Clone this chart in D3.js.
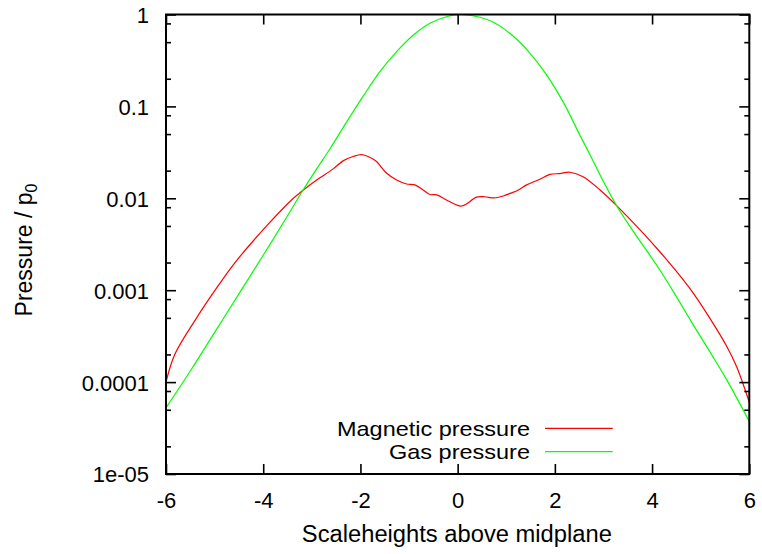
<!DOCTYPE html>
<html>
<head>
<meta charset="utf-8">
<script src="https://cdn.jsdelivr.net/npm/d3@7/dist/d3.min.js"></script>
<style>
  html, body { margin: 0; padding: 0; background: #fff; }
  svg { display: block; }
  text { font-family: "Liberation Sans", Arial, Helvetica, sans-serif; fill: #000; }
</style>
</head>
<body>
<svg id="chart" width="762" height="554"></svg>
<script>
// ---- Data ----
const magZ = [-6, -5.82, -5.37, -4.99, -4.58, -3.93, -3.38, -3.2, -2.9, -2.56, -2.35, -2.15, -1.98, -1.82, -1.67, -1.46, -1.255, -1.05, -0.88, -0.71, -0.57, -0.43, -0.23, -0.02, 0.08, 0.18, 0.39, 0.56, 0.74, 0.94, 1.08, 1.25, 1.42, 1.69, 1.90, 2.10, 2.31, 2.58, 2.93, 3.29, 3.82, 4.16, 4.51, 4.85, 5.19, 5.54, 5.74, 6.0];
const magP = [1.0e-4, 2.0e-4, 5.0e-4, 1.0e-3, 2.0e-3, 5.0e-3, 0.0100, 0.0120, 0.0158, 0.0209, 0.0257, 0.0285, 0.0299, 0.0282, 0.0251, 0.0187, 0.0158, 0.0143, 0.0140, 0.0123, 0.0110, 0.0109, 0.00959, 0.00845, 0.00824, 0.00867, 0.0103, 0.0104, 0.0101, 0.0106, 0.0113, 0.0123, 0.0140, 0.0161, 0.0182, 0.0186, 0.0192, 0.0172, 0.0123, 0.00813, 0.00416, 0.00262, 0.00158, 9.25e-4, 4.94e-4, 2.43e-4, 1.47e-4, 6.03e-5];

const gasZ = [-6, -5.5, -5, -4.5, -4, -3.5, -3.18, -2.9, -2.62, -2.28, -1.94, -1.6, -1.255, -0.91, -0.57, -0.23, 0.05, 0.46, 0.8, 1.14, 1.49, 1.83, 2.17, 2.52, 2.72, 3.0, 3.28, 3.6, 4.16, 4.5, 4.85, 5.2, 5.54, 6.0];
const gasP = [5.25e-5, 1.32e-4, 3.47e-4, 9.12e-4, 2.40e-3, 6.46e-3, 0.0123, 0.0209, 0.0350, 0.0682, 0.130, 0.239, 0.394, 0.598, 0.802, 0.946, 1.0, 0.933, 0.789, 0.583, 0.378, 0.220, 0.112, 0.0480, 0.0300, 0.0152, 8.13e-3, 4.47e-3, 1.66e-3, 8.51e-4, 4.17e-4, 2.09e-4, 1.05e-4, 3.72e-5];

const seriesNames = ["Magnetic pressure", "Gas pressure"];
const seriesColors = ["#ff0000", "#00ff00"];

const xTicks = [-6, -4, -2, 0, 2, 4, 6];
const xTickLabels = ["-6", "-4", "-2", "0", "2", "4", "6"];
const yTicks = [1, 0.1, 0.01, 0.001, 0.0001, 0.00001];
const yTickLabels = ["1", "0.1", "0.01", "0.001", "0.0001", "1e-05"];
const yMinorTicks = [];
[1e-5, 1e-4, 1e-3, 1e-2, 1e-1].forEach(d => [2, 5, 8].forEach(m => yMinorTicks.push(m * d)));

const xLabel = "Scaleheights above midplane";

// ---- Layout ----
const L = 166, R = 749.3, T = 14.5, B = 474;

const svg = d3.select("#chart");
const x = d3.scaleLinear().domain([-6, 6]).range([L, R]);
const y = d3.scaleLog().domain([1e-5, 1]).range([B, T]);

const FS = 22;

// ---- Curves ----
const series = [
  { name: seriesNames[0], color: seriesColors[0], pts: magZ.map((z, i) => [z, magP[i]]), w: 193 },
  { name: seriesNames[1], color: seriesColors[1], pts: gasZ.map((z, i) => [z, gasP[i]]), w: 141 }
];
const line = d3.line().x(d => x(d[0])).y(d => y(d[1])).curve(d3.curveCatmullRom.alpha(0.5));

svg.append("defs").append("clipPath").attr("id", "clip")
  .append("rect").attr("x", L).attr("y", T).attr("width", R - L).attr("height", B - T);

const plot = svg.append("g").attr("clip-path", "url(#clip)");
series.forEach(s => {
  plot.append("path").datum(s.pts)
    .attr("d", line)
    .attr("fill", "none")
    .attr("stroke", s.color)
    .attr("stroke-width", 1.2);
});

// ---- Axes ----
function styleAxis(g) {
  g.select(".domain").remove();
  g.selectAll(".tick line").attr("stroke", "#000").attr("stroke-width", 1.6);
  g.selectAll(".tick text").attr("font-size", FS).attr("fill", "#000")
    .attr("font-family", '"Liberation Sans", Arial, sans-serif');
}

// bottom
svg.append("g").attr("transform", `translate(0,${B})`)
  .call(d3.axisBottom(x).tickValues(xTicks).tickSize(-10).tickPadding(18)
    .tickFormat((d, i) => xTickLabels[i]))
  .call(styleAxis);
// top
svg.append("g").attr("transform", `translate(0,${T})`)
  .call(d3.axisTop(x).tickValues(xTicks).tickSize(-10).tickFormat(""))
  .call(styleAxis);
// left major
svg.append("g").attr("transform", `translate(${L},0)`)
  .call(d3.axisLeft(y).tickValues(yTicks).tickSize(-10).tickPadding(17)
    .tickFormat((d, i) => yTickLabels[i]))
  .call(styleAxis)
  .selectAll(".tick text").attr("dy", "0.36em");
// left minor
svg.append("g").attr("transform", `translate(${L},0)`)
  .call(d3.axisLeft(y).tickValues(yMinorTicks).tickSize(-5).tickFormat(""))
  .call(styleAxis);
// right major
svg.append("g").attr("transform", `translate(${R},0)`)
  .call(d3.axisRight(y).tickValues(yTicks).tickSize(-10).tickFormat(""))
  .call(styleAxis);
// right minor
svg.append("g").attr("transform", `translate(${R},0)`)
  .call(d3.axisRight(y).tickValues(yMinorTicks).tickSize(-5).tickFormat(""))
  .call(styleAxis);

// frame
svg.append("rect").attr("x", L).attr("y", T).attr("width", R - L).attr("height", B - T)
  .attr("fill", "none").attr("stroke", "#000").attr("stroke-width", 2);

// ---- Axis titles ----
svg.append("text")
  .attr("x", (L + R) / 2 - 0.8).attr("y", 541.5)
  .attr("text-anchor", "middle").attr("font-size", 23)
  .attr("textLength", 310).attr("lengthAdjust", "spacingAndGlyphs")
  .text(xLabel);

const yl = svg.append("text")
  .attr("transform", "translate(31.5,250) rotate(-90)")
  .attr("text-anchor", "middle").attr("font-size", 23);
yl.append("tspan").text("Pressure / p");
yl.append("tspan").attr("dy", 5).attr("font-size", 16).text("0");

// ---- Legend ----
const legY = [428.3, 451.7];
series.forEach((s, i) => {
  svg.append("text").attr("x", 530).attr("y", legY[i] + 7.3)
    .attr("text-anchor", "end").attr("font-size", 21)
    .attr("textLength", s.w).attr("lengthAdjust", "spacingAndGlyphs")
    .text(s.name);
  svg.append("line")
    .attr("x1", 545).attr("x2", 612.7).attr("y1", legY[i]).attr("y2", legY[i])
    .attr("stroke", s.color).attr("stroke-width", 1.2);
});
</script>
</body>
</html>
